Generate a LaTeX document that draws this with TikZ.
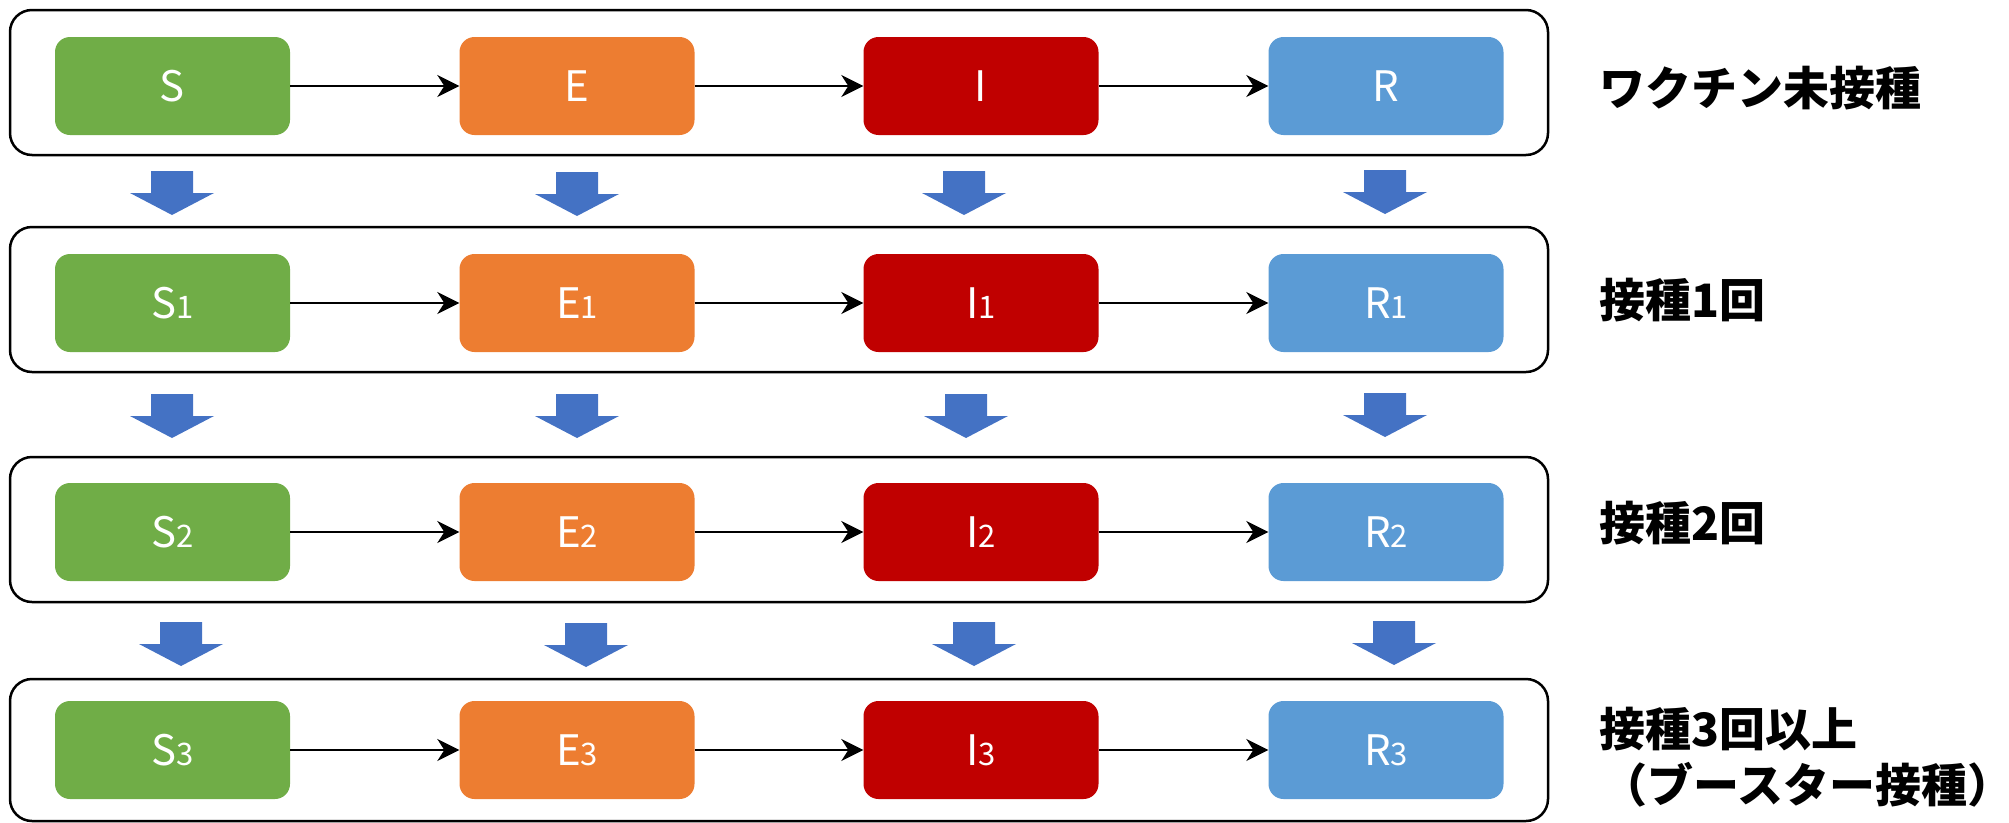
\documentclass[tikz,border=0pt]{standalone}
\usepackage{fontspec}
\setmainfont{Noto Sans CJK JP}
\usetikzlibrary{arrows.meta}
\definecolor{cS}{HTML}{70AD47}
\definecolor{cE}{HTML}{ED7D31}
\definecolor{cI}{HTML}{C00000}
\definecolor{cR}{HTML}{5B9BD5}
\definecolor{dnblue}{HTML}{4472C4}
\newcommand\dnarrow[2]{%
  \fill[dnblue] (#1-21,#2) -- (#1+21,#2) -- (#1+21,#2+22) -- (#1+42,#2+22)
    -- (#1,#2+44) -- (#1-42,#2+22) -- (#1-21,#2+22) -- cycle;}
\newcommand\sub[1]{{\fontsize{31}{31}\selectfont #1}}
\begin{document}
\begin{tikzpicture}[x=1pt,y=-1pt,
  grp/.style={draw=black, line width=2.5pt, rounded corners=22pt, minimum width=1538pt, inner sep=0pt},
  cmp/.style={rounded corners=15pt, minimum width=235pt, minimum height=98pt, text=white,
    font=\fontsize{42}{42}\selectfont, inner sep=0pt},
  flow/.style={-{Stealth[length=22pt,width=22pt,inset=7pt]}, line width=2pt},
  lab/.style={font=\fontsize{46}{56}\selectfont\bfseries, anchor=west, align=left, inner sep=0pt}]
\useasboundingbox (0,0) rectangle (2009,822);
% group frames
\node[grp, minimum height=145pt] (g0) at (779,82.5) {};
\node[grp, minimum height=145pt] (g1) at (779,299.5) {};
\node[grp, minimum height=145pt] (g2) at (779,529.5) {};
\node[grp, minimum height=142pt] (g3) at (779,750) {};
% row 0
\node[cmp, fill=cS] (S0) at (172.5,86) {S};
\node[cmp, fill=cE] (E0) at (577,86) {E};
\node[cmp, fill=cI] (I0) at (981,86) {I};
\node[cmp, fill=cR] (R0) at (1386,86) {R};
% row 1
\node[cmp, fill=cS] (S1) at (172.5,303) {S\sub{1}};
\node[cmp, fill=cE] (E1) at (577,303) {E\sub{1}};
\node[cmp, fill=cI] (I1) at (981,303) {I\sub{1}};
\node[cmp, fill=cR] (R1) at (1386,303) {R\sub{1}};
% row 2
\node[cmp, fill=cS] (S2) at (172.5,532) {S\sub{2}};
\node[cmp, fill=cE] (E2) at (577,532) {E\sub{2}};
\node[cmp, fill=cI] (I2) at (981,532) {I\sub{2}};
\node[cmp, fill=cR] (R2) at (1386,532) {R\sub{2}};
% row 3
\node[cmp, fill=cS] (S3) at (172.5,750) {S\sub{3}};
\node[cmp, fill=cE] (E3) at (577,750) {E\sub{3}};
\node[cmp, fill=cI] (I3) at (981,750) {I\sub{3}};
\node[cmp, fill=cR] (R3) at (1386,750) {R\sub{3}};
% flows
\foreach \r in {0,1,2,3}{
  \draw[flow] (S\r) -- (E\r);
  \draw[flow] (E\r) -- (I\r);
  \draw[flow] (I\r) -- (R\r);
}
% down arrows
\dnarrow{172}{171}\dnarrow{577}{172}\dnarrow{964}{171}\dnarrow{1385}{170}
\dnarrow{172}{394}\dnarrow{577}{394}\dnarrow{966}{394}\dnarrow{1385}{393}
\dnarrow{181}{622}\dnarrow{586}{623}\dnarrow{974}{622}\dnarrow{1394}{621}
% labels
\node[lab] (L0) at (1599,88) {ワクチン未接種};
\node[lab] (L1) at (1599,300) {接種1回};
\node[lab] (L2) at (1599,523) {接種2回};
\node[lab] (L3) at (1599,757) {接種3回以上\\\hspace{0.05em}（ブースター接種）\hspace{-0.45em}};
\end{tikzpicture}
\end{document}
